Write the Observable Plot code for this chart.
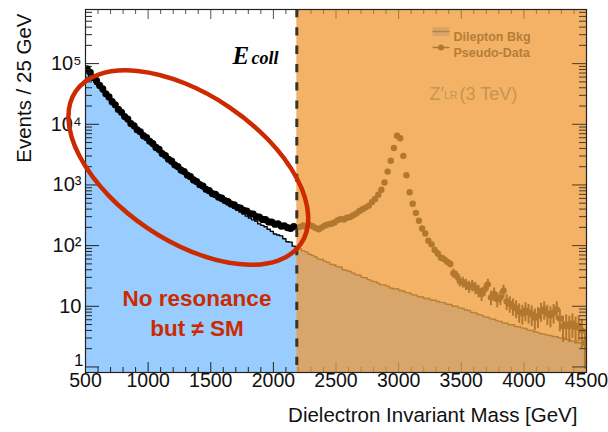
<!DOCTYPE html>
<html><head><meta charset="utf-8">
<script src="https://cdn.jsdelivr.net/npm/d3@7"></script>
<script src="https://cdn.jsdelivr.net/npm/@observablehq/plot@0.6"></script>
<style>html,body{margin:0;padding:0;background:#fff;}</style>
</head><body><div id="chart"></div>
<script>
// ---------------- data ----------------
const binWidth = 25;
const massRange = [500, 4500];
const eColl = 2187;
const yDomain = [0.81, 7.8e5];

// Dilepton background, 25 GeV bins, first bin centre 512.5 GeV
const bkgFirstCentre = 512.5;
const bkgCounts = [
  70600, 61100, 53000, 45800, 39700, 34400, 29800, 25800, 22400, 19500,
  17000, 14800, 13000, 11400, 10100, 8860, 7850, 7000, 6240, 5560,
  4950, 4420, 3940, 3510, 3130, 2810, 2520, 2260, 2040, 1850,
  1670, 1520, 1380, 1260, 1150, 1050, 957, 879, 805, 740,
  682, 632, 587, 545, 507, 473, 442, 412, 384, 356,
  330, 306, 285, 266, 255, 228, 216, 205, 186, 172,
  155, 150, 145, 130, 116, 114, 98, 93,
  88, 82, 79, 72, 69, 65, 60, 59, 55, 53,
  49, 48, 45, 44, 40, 39, 37.5, 35, 33, 32.5,
  30, 29.5, 27.5, 26, 25.5, 24, 22.5, 22.5, 21.5, 20,
  19.5, 19.5, 18.2, 17.9, 16.8, 16.6, 15.5, 15.3, 14.4, 14.2,
  13.4, 13.4, 12.6, 12.6, 12.0, 11.6, 11.5, 10.8, 10.7, 10.0,
  10.0, 9.4, 9.2, 8.7, 8.5, 7.9, 7.8, 7.3, 7.15, 6.7,
  6.6, 6.2, 6.1, 5.75, 5.65, 5.3, 5.25, 4.95, 4.95, 4.65,
  4.6, 4.4, 4.3, 4.05, 4.0, 3.8, 3.72, 3.52, 3.48, 3.35,
  3.3, 3.17, 3.15, 3.0, 3.0, 2.85, 2.8, 2.66, 2.63, 2.5,
  2.46, 2.35
];

// SM-like data below E_coll (black points)
const smFirstCentre = 512.5;
const smCounts = [
  82000, 72000, 59500, 52500, 44000, 38500, 31800, 28200, 23600, 21000,
  17600, 15800, 13400, 12200, 10300, 9450, 8100, 7500, 6500, 6050,
  5250, 4800, 4150, 3850, 3300, 3060, 2650, 2470, 2150, 2010,
  1760, 1660, 1460, 1370, 1210, 1140, 1010, 960, 850, 805,
  722, 698, 628, 605, 552, 530, 485, 470, 428, 416,
  380, 372, 338, 332, 300, 296, 270, 268, 246, 244,
  226, 228, 210, 212, 198, 192, 205
];

// Pseudo-data with Z'_LR (3 TeV) above E_coll
const pseudoFirstCentre = 2212.5;
const pseudoCounts = [
  204, 214, 200, 219, 209, 195, 186, 200, 214, 224,
  229, 240, 263, 275, 269, 288, 295, 316, 339, 372,
  398, 427, 457, 525, 589, 692, 832, 1096, 1660, 2512,
  4074, 6457, 5888, 3020, 1445, 759, 490, 347, 257, 191,
  158, 120, 105, 85, 74, 63, 60, 54, 50, 35,
  32, 26, 25, 23, 21, 22, 20, 18, 16, 19,
  23, 14, 16, 13, 14, 18, 12, 11, 10, 9.3,
  8.1, 7.6, 8.5, 7.9, 7.4, 6.5, 6.9, 8.3, 8.9, 7.6,
  7.1, 7.9, 8.9, 6.3, 4.7, 5.0, 4.7, 5.2, 4.5, 4.8,
  4.0, 2.5
];

const xTickValues = [500, 1000, 1500, 2000, 2500, 3000, 3500, 4000, 4500];
const xTickLabels = ["500", "1000", "1500", "2000", "2500", "3000", "3500", "4000", "4500"];
const yTickValues = [1, 10, 100, 1000, 10000, 100000];
const yTickLabels = ["1", "10", "10\u00B2", "10\u00B3", "10\u2074", "10\u2075"];

// ---------------- styling ----------------
const C = {
  blue: "#99ccff", orange: "#f3b265", tan: "#d8a66a", brown: "#b27830",
  bkgLine: "#b98036", legend: "#b57d38", zText: "#c79553", red: "#cc2a00",
  tick: "#222", tickOr: "#b4843f", dash: "#3a3328"
};
const sans = "'Liberation Sans', Arial, Helvetica, sans-serif";
const serif = "'Liberation Serif', 'Times New Roman', serif";
const W = 608, H = 432, mL = 85, mR = 22, mT = 9, mB = 60;
const pw = W - mL - mR, ph = H - mT - mB;

// ---------------- derived rows ----------------
const bins = (first, counts) => counts.map((c, i) => {
  const centre = first + i * binWidth;
  return {centre, lo: centre - binWidth / 2, hi: centre + binWidth / 2, count: c};
});
const bkg = bins(bkgFirstCentre, bkgCounts);
const sm = bins(smFirstCentre, smCounts);
const pseudo = bins(pseudoFirstCentre, pseudoCounts);

const bkgLeft = bkg.filter(b => b.lo < eColl);
const bkgRight = bkg.filter(b => b.lo >= eColl);
const leftSteps = bkgLeft.map(b => ({x: b.lo, y: b.count}))
  .concat([{x: eColl, y: bkgLeft[bkgLeft.length - 1].count}]);
const rightSteps = [{x: eColl, y: bkgLeft[bkgLeft.length - 1].count}]
  .concat(bkgRight.map(b => ({x: b.lo, y: b.count})))
  .concat([{x: massRange[1], y: bkgRight[bkgRight.length - 1].count}]);

const xMinor = d3.range(500, 4501, 100).filter(v => v % 500 !== 0);
const yMinor = d3.range(0, 6).flatMap(k => [2,3,4,5,6,7,8,9].map(m => m * 10 ** k)).filter(v => v < yDomain[1]);

const xTicksL = v => v < eColl;
const xTicksR = v => v >= eColl;

const rectSym = {draw(ctx) { ctx.rect(-8.5, -4.5, 17, 9); }};
const lineSym = {draw(ctx) { ctx.moveTo(-8.5, 0); ctx.lineTo(8.5, 0); }};

const ellipseMark = Plot.dot([{m: 1325, n: 1900}], {
  x: "m", y: "n",
  render: (index, scales, values) => {
    const cx = values.x[0], cy = values.y[0];
    const g = d3.create("svg:g");
    g.append("ellipse").attr("cx", cx).attr("cy", cy).attr("rx", 136).attr("ry", 73)
      .attr("transform", `rotate(34 ${cx} ${cy})`)
      .attr("fill", "none").attr("stroke", C.red).attr("stroke-width", 4.5);
    return g.node();
  }
});

const chart = Plot.plot({
  width: W, height: H,
  marginLeft: mL, marginRight: mR, marginTop: mT, marginBottom: mB,
  x: {domain: massRange, axis: null},
  y: {type: "log", domain: yDomain, axis: null},
  style: {fontFamily: sans, background: "white", overflow: "visible"},
  marks: [
    // orange region above E_coll
    Plot.rect([{x1: eColl, x2: massRange[1]}], {x1: "x1", x2: "x2", y1: yDomain[0], y2: yDomain[1], fill: C.orange}),
    // background histograms
    Plot.area(leftSteps, {x1: "x", y1: yDomain[0], y2: "y", curve: "step-after", fill: C.blue, clip: true}),
    Plot.area(rightSteps, {x1: "x", y1: yDomain[0], y2: "y", curve: "step-after", fill: C.tan, clip: true}),
    Plot.line(leftSteps, {x: "x", y: "y", curve: "step-after", stroke: "black", strokeWidth: 1.4, clip: true}),
    Plot.line(rightSteps, {x: "x", y: "y", curve: "step-after", stroke: C.bkgLine, strokeWidth: 1.4, clip: true}),
    // data points
    Plot.ruleX(pseudo, {x: "centre", y1: d => d.count - Math.sqrt(d.count), y2: d => d.count + Math.sqrt(d.count), stroke: C.brown, strokeWidth: 2, clip: true}),
    Plot.dot(pseudo, {x: "centre", y: "count", r: 3.2, fill: C.brown, clip: true}),
    Plot.dot(sm, {x: "centre", y: "count", r: 3.6, fill: "black", clip: true}),
    // E_coll dashed line
    Plot.ruleX([eColl], {stroke: C.dash, strokeWidth: 3, strokeDasharray: "8.3,10"}),
    // ticks (ROOT style, inside the frame)
    Plot.ruleX(xTickValues.filter(xTicksL), {x: d => d, insetTop: ph - 10, stroke: C.tick}),
    Plot.ruleX(xMinor.filter(xTicksL), {x: d => d, insetTop: ph - 5, stroke: C.tick}),
    Plot.ruleX(xTickValues.filter(xTicksR), {x: d => d, insetTop: ph - 10, stroke: C.tickOr}),
    Plot.ruleX(xMinor.filter(xTicksR), {x: d => d, insetTop: ph - 5, stroke: C.tickOr}),
    Plot.ruleX(xTickValues.filter(xTicksL), {x: d => d, insetBottom: ph - 10, stroke: "#555"}),
    Plot.ruleX(xMinor.filter(xTicksL), {x: d => d, insetBottom: ph - 5, stroke: "#555"}),
    Plot.ruleX(xTickValues.filter(xTicksR), {x: d => d, insetBottom: ph - 10, stroke: "#9c7a4e"}),
    Plot.ruleX(xMinor.filter(xTicksR), {x: d => d, insetBottom: ph - 5, stroke: "#9c7a4e"}),
    Plot.ruleY(yTickValues, {y: d => d, insetRight: pw - 14, stroke: C.tick}),
    Plot.ruleY(yMinor, {y: d => d, insetRight: pw - 7, stroke: C.tick}),
    Plot.ruleY(yTickValues, {y: d => d, insetLeft: pw - 14, stroke: "#4a3d2c"}),
    Plot.ruleY(yMinor, {y: d => d, insetLeft: pw - 7, stroke: "#4a3d2c"}),
    Plot.frame({stroke: "#222", strokeWidth: 1.2}),
    // tick labels
    Plot.text(xTickValues, {x: d => d, frameAnchor: "bottom", dy: 14, text: (d, i) => xTickLabels[i], fontSize: 19.5, fill: "#111"}),
    Plot.text(yTickValues.slice(1), {y: d => d, frameAnchor: "left", dx: -4, textAnchor: "end", text: (d, i) => yTickLabels[i + 1], fontSize: 20, fill: "#111"}),
    Plot.text(yTickValues.slice(0, 1), {y: d => d, frameAnchor: "left", dx: -2, dy: -6, textAnchor: "end", text: (d, i) => yTickLabels[i], fontSize: 17, fill: "#111"}),
    // axis titles
    Plot.text(["Events / 25 GeV"], {text: d => d, frameAnchor: "top-left", dx: 16 - mL, dy: 13 - mT, rotate: -90, textAnchor: "end", fontSize: 20.5, fill: "#111"}),
    Plot.text(["Dielectron Invariant Mass [GeV]"], {text: d => d, frameAnchor: "bottom-right", dx: -9, dy: 49, textAnchor: "end", fontSize: 20.5, fill: "#111"}),
    // annotations
    ellipseMark,
    Plot.text(["No resonance"], {text: d => d, frameAnchor: "top-left", dx: 196.5 - mL, dy: 290 - mT, textAnchor: "middle", fontSize: 22.5, fontWeight: "bold", fill: C.red}),
    Plot.text(["but \u2260 SM"], {text: d => d, frameAnchor: "top-left", dx: 196.5 - mL, dy: 319.5 - mT, textAnchor: "middle", fontSize: 22.5, fontWeight: "bold", fill: C.red}),
    Plot.text(["E"], {text: d => d, frameAnchor: "top-left", dx: 232 - mL, dy: 46 - mT, textAnchor: "start", fontFamily: serif, fontWeight: "bold", fontStyle: "italic", fontSize: 25, fill: "#000"}),
    Plot.text(["coll"], {text: d => d, frameAnchor: "top-left", dx: 251 - mL, dy: 51 - mT, textAnchor: "start", fontFamily: serif, fontWeight: "bold", fontStyle: "italic", fontSize: 18, fill: "#000"}),
    Plot.text(["Z\u2032"], {text: d => d, frameAnchor: "top-left", dx: 429 - mL, dy: 86.4 - mT, textAnchor: "start", fontSize: 18, fill: C.zText}),
    Plot.text(["LR"], {text: d => d, frameAnchor: "top-left", dx: 443.5 - mL, dy: 91.5 - mT, textAnchor: "start", fontSize: 10.5, fill: C.zText}),
    Plot.text(["(3 TeV)"], {text: d => d, frameAnchor: "top-left", dx: 459 - mL, dy: 86.4 - mT, textAnchor: "start", fontSize: 18, fill: C.zText}),
    // legend
    Plot.dot([0], {frameAnchor: "top-left", dx: 440.5 - mL, dy: 31 - mT, symbol: rectSym, fill: C.tan, stroke: null}),
    Plot.dot([0], {frameAnchor: "top-left", dx: 440.5 - mL, dy: 31 - mT, symbol: lineSym, fill: "none", stroke: C.bkgLine, strokeWidth: 1.5}),
    Plot.dot([0], {frameAnchor: "top-left", dx: 440.5 - mL, dy: 47 - mT, symbol: lineSym, fill: "none", stroke: C.brown, strokeWidth: 1.5}),
    Plot.dot([0], {frameAnchor: "top-left", dx: 440.5 - mL, dy: 47 - mT, r: 3, fill: C.brown}),
    Plot.text(["Dilepton Bkg"], {text: d => d, frameAnchor: "top-left", dx: 453 - mL, dy: 31.5 - mT, textAnchor: "start", fontSize: 12.5, fontWeight: "bold", fill: C.legend}),
    Plot.text(["Pseudo-Data"], {text: d => d, frameAnchor: "top-left", dx: 453 - mL, dy: 47.5 - mT, textAnchor: "start", fontSize: 12.5, fontWeight: "bold", fill: C.legend})
  ]
});
document.getElementById("chart").appendChild(chart);
</script>
</body></html>
